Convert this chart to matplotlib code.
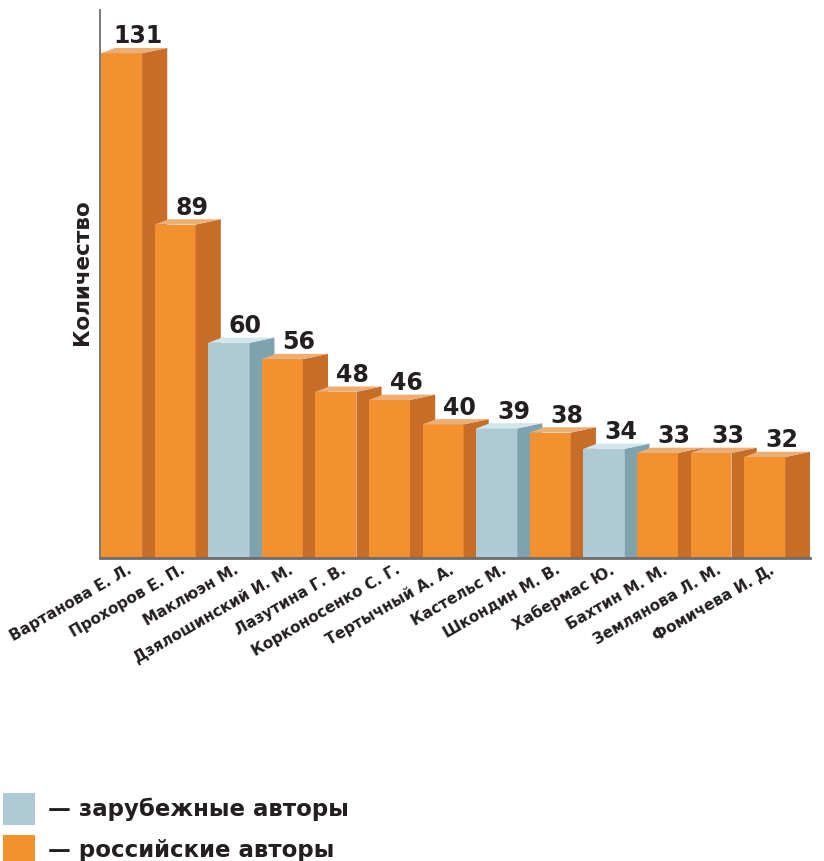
import matplotlib
matplotlib.use("Agg")
import matplotlib.pyplot as plt
from matplotlib.patches import Polygon, Rectangle

plt.rcParams['font.family'] = ['DejaVu Sans']

authors = ['Вартанова Е. Л.', 'Прохоров Е. П.', 'Маклюэн М.', 'Дзялошинский И. М.',
           'Лазутина Г. В.', 'Корконосенко С. Г.', 'Тертычный А. А.', 'Кастельс М.',
           'Шкондин М. В.', 'Хабермас Ю.', 'Бахтин М. М.', 'Землянова Л. М.',
           'Фомичева И. Д.']
counts = [131, 89, 60, 56, 48, 46, 40, 39, 38, 34, 33, 33, 32]
foreign = [False, False, True, False, False, False, False, True, False, True, False, False, False]

# front / side / top colours
orange = ('#F39130', '#C86D28', '#EDAE74')
blue = ('#AECBD5', '#7EA3AE', '#D3E6EC')

W, H = 824, 861
fig = plt.figure(figsize=(W / 100, H / 100), dpi=100)
ax = fig.add_axes([100 / W, 303 / H, 710 / W, 548 / H])

w = 0.765   # front width
d = 0.47    # depth in x
dy = 1.3    # depth in y
ax.set_xlim(-0.02, 13.23)
ax.set_ylim(7.25, 141.6)

for i, (v, f) in enumerate(zip(counts, foreign)):
    front, side, top = blue if f else orange
    z = 2 + i
    ax.add_patch(Rectangle((i, 0), w, v, facecolor=front, edgecolor='none', zorder=z))
    ax.add_patch(Polygon([(i + w, 0), (i + w + d, dy), (i + w + d, v + dy), (i + w, v)],
                         closed=True, facecolor=side, edgecolor='none', zorder=z))
    ax.add_patch(Polygon([(i, v), (i + w, v), (i + w + d, v + dy), (i + d * 0.55, v + dy)],
                         closed=True, facecolor=top, edgecolor='none', zorder=z))
    ax.text(i + w - 0.07, v + 2.4, str(v), ha='center', va='baseline',
            fontsize=17, fontweight='bold', color='#231f20', zorder=30)

ax.set_xticks([i + w / 2 + 0.1 for i in range(len(authors))])
ax.set_xticklabels(authors, rotation=30, ha='right', va='top', rotation_mode='anchor',
                   fontsize=11, fontweight='bold', color='#231f20')
ax.tick_params(axis='x', length=0, pad=3)
ax.set_yticks([])
for s in ['top', 'right']:
    ax.spines[s].set_visible(False)
ax.spines['left'].set_color('#6d6d6d')
ax.spines['left'].set_linewidth(1.3)
ax.spines['bottom'].set_color('#6d6d6d')
ax.spines['bottom'].set_linewidth(2)
ax.spines['bottom'].set_zorder(40)
ax.set_ylabel('Количество', fontsize=15.5, fontweight='bold', color='#231f20')
ax.yaxis.set_label_coords(-8 / 710, 1 - 272 / 548 + 10 / 548)

# legend
fig.patches.append(Rectangle((3 / W, 1 - 825 / H), 32 / W, 32 / H,
                             transform=fig.transFigure, facecolor=blue[0], edgecolor='none'))
fig.patches.append(Rectangle((3 / W, 1 - 867 / H), 32 / W, 32 / H,
                             transform=fig.transFigure, facecolor=orange[0], edgecolor='none'))
fig.text(48 / W, 1 - 809 / H, '— зарубежные авторы', fontsize=16.5, fontweight='bold',
         color='#231f20', va='center')
fig.text(48 / W, 1 - 850 / H, '— российские авторы', fontsize=16.5, fontweight='bold',
         color='#231f20', va='center')

fig.savefig('out.png', dpi=100)
